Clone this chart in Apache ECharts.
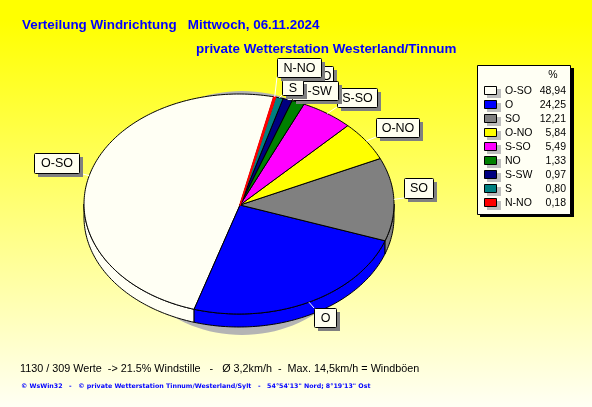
<!DOCTYPE html>
<html><head><meta charset="utf-8">
<style>html,body{margin:0;padding:0;background:#fff}#c{width:592px;height:407px}</style>
<script src="https://cdn.jsdelivr.net/npm/echarts@6/dist/echarts.min.js"></script>
</head><body><div id="c"></div>
<script>
const categories=['O-SO','O','SO','O-NO','S-SO','NO','S-SW','S','N-NO'];
const values=[48.94,24.25,12.21,5.84,5.49,1.33,0.97,0.80,0.18];
const valueLabels=['48,94','24,25','12,21','5,84','5,49','1,33','0,97','0,80','0,18'];
const colors=['#fffff4','#0000ff','#808080','#ffff00','#ff00ff','#008000','#000080','#008080','#ff0000'];
const labelBoxes=[[34,153,45,20],[314,308,22,19],[404,178,29,20],[376,118,43,19],[337,88,40,19],[310,66,23,20],[292,81,46,19],[282,80,21,15],[277,58,44,19]];

const cx=239,cy=204,rx=155,ry=110,depth=13,startDeg=373;
const total=values.reduce((a,b)=>a+b,0);
const rad=d=>d*Math.PI/180;
const pt=(d,dy)=>[cx+rx*Math.sin(rad(d)),cy-ry*Math.cos(rad(d))+(dy||0)];
function range(i){let s=0;for(let k=0;k<i;k++)s+=values[k];
  return [startDeg-(s+values[i])/total*360,startDeg-s/total*360];}
function arc(a,b,dy){const p=[];const n=Math.max(2,Math.ceil(Math.abs(b-a)));
  for(let k=0;k<=n;k++)p.push(pt(a+(b-a)*k/n,dy));return p;}
const line={stroke:'#000',lineWidth:1,lineJoin:'round'};
const seriesData=categories.map((c,i)=>[i,values[i]]);

function wallItem(params,api){
  const i=api.value(0);let [a,b]=range(i);
  const kids=[];
  [[90,270]].forEach(w=>{
    const s=Math.max(a,w[0]),e=Math.min(b,w[1]);
    if(e>s){kids.push({type:'polygon',shape:{points:arc(s,e,0).concat(arc(e,s,depth))},
      style:Object.assign({fill:colors[i]},line)});}
  });
  return {type:'group',children:kids};
}
function topItem(params,api){
  const i=api.value(0);const [a,b]=range(i);
  const thin=values[i]<0.5;
  return {type:'polygon',shape:{points:[[240,205]].concat(arc(a,b,0))},
    style:Object.assign({fill:colors[i]},line,thin?{stroke:colors[i],lineWidth:1.6}:{})};
}
function labelItem(params,api){
  const i=api.value(0);const [a,b]=range(i);const m=(a+b)/2;
  const [x,y,w,h]=labelBoxes[i];const e=pt(m,0);
  const ax=Math.min(x+w,Math.max(x,e[0])),ay=Math.min(y+h,Math.max(y,e[1]));
  return {type:'group',children:[
    {type:'line',shape:{x1:e[0],y1:e[1],x2:ax,y2:ay},style:{stroke:'#fff',lineWidth:1}},
    {type:'rect',shape:{x:x+4,y:y+4,width:w,height:h},style:{fill:'#808080'}},
    {type:'rect',shape:{x:x+.5,y:y+.5,width:w,height:h,r:1},style:{fill:'#fffff0',stroke:'#000',lineWidth:1}},
    {type:'text',style:{x:x+w/2+.5,y:y+h/2+1,text:categories[i],align:'center',verticalAlign:'middle',font:'12.5px "Liberation Sans"',fill:'#000'}}
  ]};
}
const g=[];
const T=(x,y,text,font,fill,align)=>({type:'text',x,y,silent:true,style:{text,font,fill,align:align||'left',verticalAlign:'middle'}});
g.push(T(22,25,'Verteilung Windrichtung   Mittwoch, 06.11.2024','bold 13.4px "Liberation Sans"','#0000ff'));
g.push(T(196,49,'private Wetterstation Westerland/Tinnum','bold 13.4px "Liberation Sans"','#0000ff'));
g.push(T(20,369,'1130 / 309 Werte  -> 21.5% Windstille   -   Ø 3,2km/h  -  Max. 14,5km/h = Windböen','10.8px "Liberation Sans"','#000'));
g.push(T(21,386,'© WsWin32   -   © private Wetterstation Tinnum/Westerland/Sylt   -   54°54\'13" Nord; 8°19\'13" Ost','bold 6.3px "DejaVu Sans"','#0000ff'));
g.push({type:'rect',shape:{x:480,y:68,width:94,height:149},style:{fill:'#000'}});
g.push({type:'rect',shape:{x:477.5,y:65.5,width:93,height:149},style:{fill:'#fffff4',stroke:'#000',lineWidth:1}});
g.push(T(553,75,'%','10.5px "Liberation Sans"','#000','center'));
categories.forEach((c,i)=>{
  const y=91+i*14;
  g.push({type:'rect',shape:{x:487,y:y-2,width:14,height:9},style:{fill:'#bdbdbd'}});
  g.push({type:'rect',shape:{x:484.5,y:y-4.5,width:12,height:8},style:{fill:colors[i],stroke:'#000',lineWidth:1}});
  g.push(T(505,y,c,'10.5px "Liberation Sans"','#000'));
  g.push(T(566,y,valueLabels[i],'10.5px "Liberation Sans"','#000','right'));
});
const chart=echarts.init(document.getElementById('c'),null,{renderer:'canvas',width:592,height:407});
chart.setOption({
  animation:false,
  backgroundColor:{type:'linear',x:0,y:0,x2:0,y2:1,colorStops:[{offset:0,color:'#ffff00'},{offset:.05,color:'#ffff00'},{offset:1,color:'#fffff4'}]},
  graphic:g,
  series:[
   {type:'custom',coordinateSystem:'none',silent:true,z:1,data:[[0]],renderItem:()=>({type:'ellipse',shape:{cx:242,cy:213,rx:130,ry:122},style:{fill:'#b4b4b4'}})},
   {type:'custom',coordinateSystem:'none',silent:true,z:2,data:seriesData,renderItem:wallItem},
   {type:'custom',coordinateSystem:'none',silent:true,z:3,data:seriesData,renderItem:topItem},
   {type:'custom',coordinateSystem:'none',silent:true,z:4,data:seriesData,renderItem:labelItem}
  ]
});
</script></body></html>
